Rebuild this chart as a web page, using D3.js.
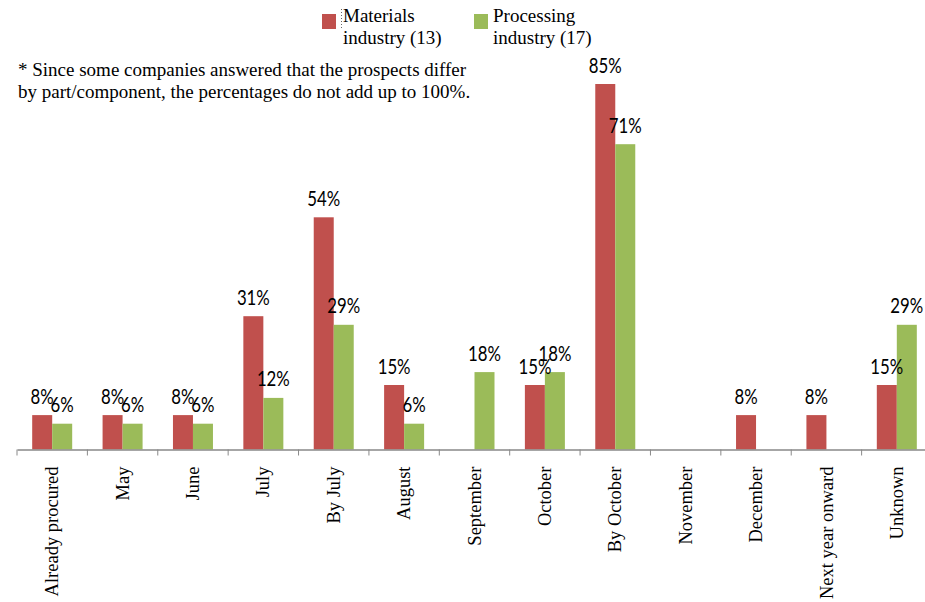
<!DOCTYPE html>
<html>
<head>
<meta charset="utf-8">
<script src="https://cdn.jsdelivr.net/npm/d3@7"></script>
<style>
  html, body { margin: 0; padding: 0; background: #fff; }
  svg { display: block; }
  .lbl { font-family: Lato, "Open Sans", sans-serif; font-size: 21px; fill: #000; }
  .serif { font-family: "Liberation Serif", "Times New Roman", serif; font-size: 19px; fill: #000; }
  .cat { font-family: "Liberation Serif", "Times New Roman", serif; font-size: 18.5px; fill: #000; }
</style>
</head>
<body>
<svg id="chart" width="925" height="602"></svg>
<script>
// Expected timing of procurement, share of respondents (%)
const categories = ["Already procured", "May", "June", "July", "By July", "August",
  "September", "October", "By October", "November", "December", "Next year onward", "Unknown"];
const materials = [8, 8, 8, 31, 54, 15, null, 15, 85, null, 8, 8, 15];
const processing = [6, 6, 6, 12, 29, 6, 18, 18, 71, null, null, null, 29];
const seriesNames = ["Materials industry (13)", "Processing industry (17)"];
const seriesLines = [["Materials", "industry (13)"], ["Processing", "industry (17)"]];
const colors = ["#C0504D", "#9BBB59"];
const note = ["* Since some companies answered that the prospects differ",
  "by part/component, the percentages do not add up to 100%."];

const svg = d3.select("#chart");
const baseY = 449.5;

const x = d3.scaleBand().domain(categories).range([17, 932]).padding(0);
const x1 = d3.scaleBand().domain(seriesNames)
  .range([x.bandwidth() / 2 - 20, x.bandwidth() / 2 + 20]).padding(0);
const y = d3.scaleLinear().domain([0, 100]).range([baseY, 19.5]);

const rows = categories.map((c, i) => ({
  cat: c,
  vals: [
    { s: seriesNames[0], v: materials[i], color: colors[0] },
    { s: seriesNames[1], v: processing[i], color: colors[1] }
  ].filter(d => d.v != null)
}));

const groups = svg.append("g").selectAll("g")
  .data(rows).join("g")
  .attr("transform", d => `translate(${x(d.cat)},0)`);

groups.selectAll("rect")
  .data(d => d.vals).join("rect")
  .attr("x", d => x1(d.s))
  .attr("width", x1.bandwidth())
  .attr("y", d => y(d.v))
  .attr("height", d => baseY - y(d.v))
  .attr("fill", d => d.color);

// value labels, condensed horizontally
groups.selectAll("text")
  .data(d => d.vals).join("text")
  .attr("class", "lbl")
  .attr("transform", d => `translate(${x1(d.s) + x1.bandwidth() / 2},${y(d.v) - 11.5}) scale(0.8,1)`)
  .attr("text-anchor", "middle")
  .text(d => d.v + "%");

// category axis: line, boundary ticks, rotated labels
const axis = svg.append("g").attr("transform", `translate(0,${baseY})`)
  .call(d3.axisBottom(x).tickSize(0).tickSizeOuter(0).tickPadding(0));
axis.select(".domain").attr("stroke", "#898989").attr("stroke-width", 1.5);
axis.selectAll(".tick text")
  .attr("class", "cat")
  .attr("font-family", null).attr("font-size", null)
  .attr("transform", "rotate(-90)")
  .attr("text-anchor", "end")
  .attr("x", -17)
  .attr("y", 0)
  .attr("dy", "0.33em")
  .attr("dx", 0);

const bounds = categories.map(c => x(c));
axis.selectAll("line.bound").data(bounds).join("line")
  .attr("class", "bound")
  .attr("x1", d => d).attr("x2", d => d)
  .attr("y1", 0).attr("y2", 6)
  .attr("stroke", "#898989").attr("stroke-width", 1);

// legend
const legendX = [322, 474];
const leg = svg.append("g").selectAll("g").data(seriesNames).join("g")
  .attr("transform", (d, i) => `translate(${legendX[i]},0)`);
leg.append("rect")
  .attr("x", 0).attr("y", 14).attr("width", 14).attr("height", 15)
  .attr("fill", (d, i) => colors[i]);
leg.append("text").attr("class", "serif")
  .attr("x", (d, i) => i === 0 ? 21 : 19).attr("y", 22)
  .selectAll("tspan").data((d, i) => seriesLines[i]).join("tspan")
  .attr("x", function () { return this.parentNode.getAttribute("x"); })
  .attr("dy", (d, j) => j === 0 ? 0 : 22)
  .text(d => d);
svg.append("line")
  .attr("x1", 341.5).attr("x2", 341.5).attr("y1", 9).attr("y2", 28)
  .attr("stroke", "#666").attr("stroke-width", 1).attr("stroke-dasharray", "1,2");

// footnote
svg.append("text").attr("class", "serif").attr("x", 18).attr("y", 75.5)
  .selectAll("tspan").data(note).join("tspan")
  .attr("x", 18).attr("dy", (d, i) => i === 0 ? 0 : 22.5)
  .text(d => d);
</script>
</body>
</html>
